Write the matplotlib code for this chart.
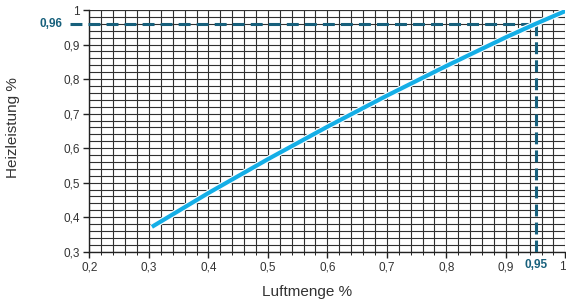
import matplotlib
matplotlib.use("Agg")
import matplotlib.pyplot as plt
import matplotlib.patheffects as pe
import numpy as np

plt.rcParams["font.family"] = ["Liberation Sans", "DejaVu Sans"]

# Kennlinie Heizleistung über Luftmenge
luft = [0.305, 0.4, 0.5, 0.6, 0.7, 0.8, 0.9, 0.95, 1.0]
heiz = [0.372, 0.470, 0.568, 0.662, 0.752, 0.838, 0.921, 0.96, 0.997]

x_ticks = [0.2, 0.3, 0.4, 0.5, 0.6, 0.7, 0.8, 0.9, 1.0]
x_labels = ["0,2", "0,3", "0,4", "0,5", "0,6", "0,7", "0,8", "0,9", "1"]
y_ticks = [0.3, 0.4, 0.5, 0.6, 0.7, 0.8, 0.9, 1.0]
y_labels = ["0,3", "0,4", "0,5", "0,6", "0,7", "0,8", "0,9", "1"]

mark_x, mark_y = 0.95, 0.96
mark_x_label, mark_y_label = "0,95", "0,96"

CURVE = "#14aee6"
MARK = "#17607c"
TEXT = "#333333"

fig = plt.figure(figsize=(5.66, 3.04), dpi=100)
ax = fig.add_axes([0.158, 0.172, 0.8408, 0.795])
ax.set_xlim(0.2, 1.0)
ax.set_ylim(0.3, 1.0)

# Raster, 0,02 in beide Richtungen
for gx in np.arange(0.2, 1.0001, 0.02):
    ax.axvline(gx, color="#303030", lw=0.8, zorder=1)
for gy in np.arange(0.3, 1.0001, 0.02):
    ax.axhline(gy, color="#303030", lw=0.8, zorder=1)
ax.axhline(1.0, color="#303030", lw=0.8, zorder=1)

for s in ("top", "right"):
    ax.spines[s].set_visible(False)
for s in ("left", "bottom"):
    ax.spines[s].set_color("#222222")
    ax.spines[s].set_linewidth(1.0)

ax.set_xticks(x_ticks)
ax.set_xticklabels(x_labels)
ax.set_yticks(y_ticks)
ax.set_yticklabels(y_labels)
ax.set_xticks(np.arange(0.2, 1.0001, 0.02), minor=True)
ax.tick_params(axis="both", which="major", length=4, width=1.0, color="#222222",
               labelsize=8.5, labelcolor=TEXT, pad=3)
ax.tick_params(axis="x", which="minor", length=2, width=0.7, color="#222222")
# "1" liegt am Bildrand
ax.get_xticklabels()[-1].set_horizontalalignment("right")

# Ablesehilfe
ax.plot([0.1676, mark_x], [mark_y, mark_y], color=MARK, lw=2.2,
        dashes=(3.9, 2.0), clip_on=False, zorder=3)
ax.plot([mark_x, mark_x], [0.3, mark_y], color=MARK, lw=2.2,
        dashes=(3.9, 2.0), zorder=3)
ax.annotate(mark_y_label, xy=(0.2, mark_y), xycoords="data",
            xytext=(-27, 0), textcoords="offset pixels",
            ha="right", va="center", fontsize=8.5, fontweight="bold", color=MARK)
ax.annotate(mark_x_label, xy=(mark_x, 0), xycoords=("data", "axes fraction"),
            xytext=(0, -13), textcoords="offset pixels",
            ha="center", va="center", fontsize=8.5, fontweight="bold", color=MARK)

# Kurve
ax.plot(luft, heiz, color=CURVE, lw=3.0, solid_capstyle="butt", zorder=4,
        path_effects=[pe.Stroke(linewidth=4.6, foreground="white"), pe.Normal()])

# Achsentitel
fig.text(307 / 566, 1 - 292 / 304, "Luftmenge %", fontsize=11, color=TEXT,
         ha="center", va="center")
fig.text(13 / 566, 1 - 128 / 304, "Heizleistung %", fontsize=11, color=TEXT,
         ha="center", va="center", rotation=90)

fig.savefig("out.png", dpi=100)
